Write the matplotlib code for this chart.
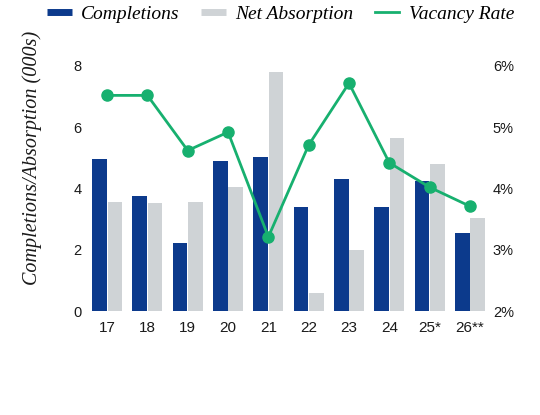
import matplotlib.pyplot as plt
import numpy as np
from matplotlib.lines import Line2D
from matplotlib.ticker import FuncFormatter

years = ["17", "18", "19", "20", "21", "22", "23", "24", "25*", "26**"]
completions = [4.97, 3.75, 2.22, 4.90, 5.03, 3.40, 4.31, 3.39, 4.26, 2.55]
net_absorption = [3.56, 3.53, 3.56, 4.06, 7.79, 0.60, 1.99, 5.65, 4.80, 3.03]
vacancy_rate = [5.52, 5.52, 4.62, 4.92, 3.21, 4.71, 5.72, 4.42, 4.02, 3.71]

navy = "#0c3a8c"
grey = "#cfd3d6"
green = "#17b06f"
serif = "Liberation Serif"
sans = "Liberation Sans"

fig = plt.figure(figsize=(5.4, 4.15), dpi=100)
ax = fig.add_axes([0.161, 0.2506, 0.7466, 0.5904])

x = np.arange(len(years))
w = 0.36
ax.bar(x - w / 2 - 0.01, completions, width=w, color=navy, zorder=2)
ax.bar(x + w / 2 + 0.01, net_absorption, width=w, color=grey, zorder=2)
ax.set_xlim(-0.5, 9.5)
ax.set_ylim(0, 8)
ax.set_yticks([0, 2, 4, 6, 8])
ax.set_xticks(x)
ax.set_xticklabels(years)
ax.tick_params(length=0, labelsize=10.5, colors="#1a1a1a")
ax.tick_params(axis="y", pad=4)
ax.tick_params(axis="x", pad=7, labelsize=11)
for lab in ax.get_xticklabels() + ax.get_yticklabels():
    lab.set_family(sans)
ax.set_ylabel("Completions/Absorption (000s)", family=serif, style="italic",
              fontsize=14.5, color="#1a1a1a")
ax.yaxis.set_label_coords(-0.112, 0.625)
for s in ax.spines.values():
    s.set_visible(False)

ax2 = ax.twinx()
ax2.plot(x, vacancy_rate, color=green, lw=2, marker="o", ms=8, zorder=5)
ax2.set_ylim(2, 6)
ax2.set_yticks([2, 3, 4, 5, 6])
ax2.yaxis.set_major_formatter(FuncFormatter(lambda v, p: "%d%%" % v))
ax2.tick_params(length=0, labelsize=10.5, colors="#1a1a1a", pad=2)
for lab in ax2.get_yticklabels():
    lab.set_family(sans)
for s in ax2.spines.values():
    s.set_visible(False)

handles = [
    Line2D([], [], color=navy, lw=5, solid_capstyle="butt"),
    Line2D([], [], color=grey, lw=5, solid_capstyle="butt"),
    Line2D([], [], color=green, lw=2),
]
fig.legend(handles, ["Completions", "Net Absorption", "Vacancy Rate"],
           loc="center", bbox_to_anchor=(0.52, 0.966), ncol=3, frameon=False,
           prop={"family": serif, "style": "italic", "size": 14},
           handlelength=1.25, handletextpad=0.5, columnspacing=1.1)

fig.savefig("out.png", dpi=100)
